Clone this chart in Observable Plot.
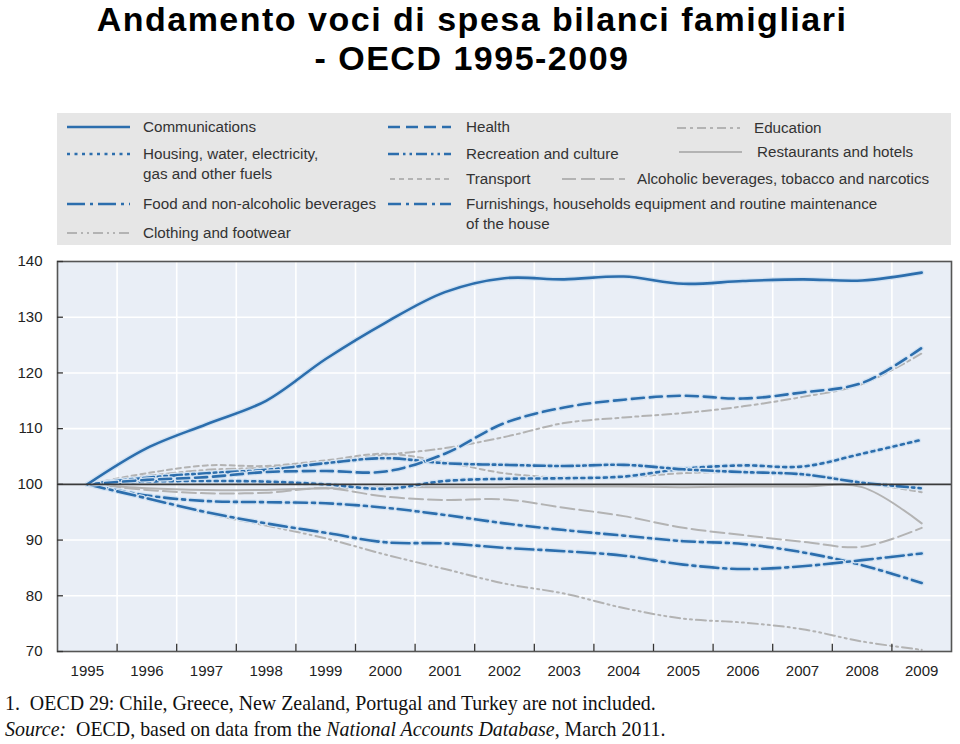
<!DOCTYPE html>
<html>
<head>
<meta charset="utf-8">
<script src="https://cdn.jsdelivr.net/npm/d3@7"></script>
<script src="https://cdn.jsdelivr.net/npm/@observablehq/plot@0.6"></script>
<style>
  html, body { margin: 0; padding: 0; background: #fff; }
  #wrap { position: relative; width: 960px; height: 744px; overflow: hidden; font-family: "Liberation Sans", Arial, sans-serif; }
  .title { position: absolute; left: 0; width: 944px; text-align: center; font-weight: bold; font-size: 34px; line-height: 39px; letter-spacing: 1.5px; color: #000; white-space: nowrap; }
  #legend { position: absolute; left: 57px; top: 113px; width: 894px; height: 132px; background: #e6e6e6; }
  .item { position: absolute; font-size: 15.2px; line-height: 20px; color: #333; white-space: nowrap; }
  .sw { position: absolute; }
  #chart { position: absolute; left: 0; top: 250px; }
  .foot { position: absolute; left: 5px; font-family: "Liberation Serif", "Times New Roman", serif; font-size: 19.9px; color: #111; white-space: nowrap; }
</style>
</head>
<body>
<div id="wrap">
  <div class="title" style="top:0px">Andamento voci di spesa bilanci famigliari</div>
  <div class="title" style="top:39px">- OECD 1995-2009</div>
  <div id="legend"></div>
  <div id="chart"></div>
  <div class="foot" style="top:692px">1.&nbsp;&nbsp;OECD 29: Chile, Greece, New Zealand, Portugal and Turkey are not included.</div>
  <div class="foot" style="top:718px"><i>Source:</i>&nbsp;&nbsp;OECD, based on data from the <i>National Accounts Database</i>, March 2011.</div>
</div>
<script>
// ---- Data (index, 1995 = 100) ----
const years = [1995,1996,1997,1998,1999,2000,2001,2002,2003,2004,2005,2006,2007,2008,2009];
const communications = [100,106.5,110.8,115,122.5,129,134.5,137,136.8,137.3,136,136.5,136.8,136.6,138];
const housing        = [100,100.5,100.6,100.5,100,99.2,100.6,101,101.1,101.4,102.8,103.4,103.2,105.5,108];
const food           = [100,97.5,95,93,91.3,89.6,89.4,88.6,88,87.2,85.6,84.8,85.3,86.4,87.6];
const clothing       = [100,97.7,94.8,92.6,90.3,87.4,84.8,82.2,80.4,77.8,75.9,75.2,74,71.8,70.3];
const health         = [100,100.8,101.3,102.2,102.4,102.3,105.5,111,113.8,115.2,115.9,115.4,116.5,118.2,124.5];
const recreation     = [100,101.2,102,102.6,103.8,104.7,103.8,103.5,103.3,103.5,102.7,102.2,101.8,100.3,99.3];
const transport      = [100,102,103.4,103.3,104.3,105.5,104,102,101.2,101.3,102,102.2,101.7,100.3,98.6];
const furnishings    = [100,98,97,96.8,96.6,95.8,94.5,93,91.8,90.8,89.8,89.3,87.8,85.5,82.3];
const education      = [100,101.5,102.6,103,104,105.3,106.5,108.5,111,112,112.8,114,115.7,118,123.5];
const restaurants    = [100,99.3,99,99,99.3,99.5,99.5,99.5,99.6,99.6,99.5,99.6,99.6,99.5,93];
const alcoholic      = [100,99,98.4,98.5,99.3,97.8,97.2,97.3,95.8,94.3,92.2,90.9,89.7,88.8,92.2];
const yTicks = [70,80,90,100,110,120,130,140];

const BLUE = "#2c6ead";
const GRAY = "#b3b3b3";

// series styling (order = drawing order)
const series = [
  {name: "Clothing and footwear", values: clothing, color: GRAY, width: 2, dash: "10,4,2,4,2,4"},
  {name: "Education", values: education, color: GRAY, width: 2, dash: "9,4,3,4"},
  {name: "Transport", values: transport, color: GRAY, width: 2, dash: "5,4"},
  {name: "Restaurants and hotels", values: restaurants, color: GRAY, width: 2, dash: null},
  {name: "Alcoholic beverages, tobacco and narcotics", values: alcoholic, color: GRAY, width: 2, dash: "14,5"},
  {name: "Housing, water, electricity, gas and other fuels", values: housing, color: BLUE, width: 2.6, dash: "3,4.5"},
  {name: "Recreation and culture", values: recreation, color: BLUE, width: 2.6, dash: "11,4,2.5,4,2.5,4"},
  {name: "Furnishings", values: furnishings, color: BLUE, width: 2.6, dash: "13,5,3,5"},
  {name: "Food and non-alcoholic beverages", values: food, color: BLUE, width: 2.6, dash: "18,5,3,5"},
  {name: "Health", values: health, color: BLUE, width: 2.6, dash: "12,6"},
  {name: "Communications", values: communications, color: BLUE, width: 2.6, dash: null}
];

const rows = series.flatMap(s => years.map((yr, i) => ({series: s.name, year: yr, value: s.values[i]})));
const bounds = years.slice(0, -1).map(y => y + 0.5);

const lineMarks = series.flatMap(s => [
  Plot.line(rows.filter(d => d.series === s.name), {
    x: "year", y: "value", stroke: s.color === BLUE ? "#d2e2f2" : "none",
    strokeWidth: s.width + 2.5, curve: "catmull-rom", strokeDasharray: s.dash || undefined
  }),
  Plot.line(rows.filter(d => d.series === s.name), {
    x: "year", y: "value", stroke: s.color, strokeWidth: s.width,
    curve: "catmull-rom", strokeDasharray: s.dash || undefined
  })
]);

const chart = Plot.plot({
  width: 960, height: 445,
  marginTop: 11, marginBottom: 44, marginLeft: 57, marginRight: 9,
  x: {domain: [1994.5, 2009.5], axis: null},
  y: {domain: [70, 140], axis: null},
  style: {fontFamily: "'Liberation Sans', Arial, sans-serif", background: "transparent", color: "#222"},
  marks: [
    Plot.frame({fill: "#e9eef6", stroke: "none"}),
    Plot.ruleY(yTicks.filter(v => v !== 100 && v !== 70 && v !== 140), {y: d => d, stroke: "#fff", strokeWidth: 1.6}),
    Plot.ruleX(bounds, {x: d => d, stroke: "#fff", strokeWidth: 1.6}),
    ...lineMarks,
    Plot.ruleY([100], {y: d => d, stroke: "#3a3a3a", strokeWidth: 1.6}),
    Plot.frame({stroke: "#555", strokeWidth: 1.6}),
    Plot.ruleX(bounds, {x: d => d, y1: 70, y2: 71.3, stroke: "#333", strokeWidth: 1.3}),
    Plot.ruleY(yTicks, {y: d => d, x1: 1994.5, x2: 1994.6, stroke: "#333", strokeWidth: 1.3}),
    Plot.axisX(years, {tickSize: 0, tickPadding: 14, fontSize: 15, tickFormat: d => String(d), anchor: "bottom", label: null}),
    Plot.axisY(yTicks, {tickSize: 0, tickPadding: 15, fontSize: 15, anchor: "left", label: null})
  ]
});
document.getElementById("chart").appendChild(chart);

// ---- Legend (HTML) ----
const legendItems = [
  {label: "Communications", sx: 10, sy: 14, tx: 86, ty: 4, s: "Communications"},
  {label: "Housing, water, electricity,<br>gas and other fuels", sx: 10, sy: 41, tx: 86, ty: 31, s: "Housing, water, electricity, gas and other fuels"},
  {label: "Food and non-alcoholic beverages", sx: 10, sy: 91, tx: 86, ty: 81, s: "Food and non-alcoholic beverages"},
  {label: "Clothing and footwear", sx: 10, sy: 120, tx: 86, ty: 110, s: "Clothing and footwear"},
  {label: "Health", sx: 331, sy: 14, tx: 409, ty: 4, s: "Health"},
  {label: "Recreation and culture", sx: 331, sy: 41, tx: 409, ty: 31, s: "Recreation and culture"},
  {label: "Transport", sx: 333, sy: 66, tx: 409, ty: 56, s: "Transport"},
  {label: "Furnishings, households equipment and routine maintenance<br>of the house", sx: 331, sy: 91, tx: 409, ty: 81, s: "Furnishings"},
  {label: "Education", sx: 620, sy: 15, tx: 697, ty: 5, s: "Education"},
  {label: "Restaurants and hotels", sx: 622, sy: 39, tx: 700, ty: 29, s: "Restaurants and hotels"},
  {label: "Alcoholic beverages, tobacco and narcotics", sx: 505, sy: 66, tx: 580, ty: 56, s: "Alcoholic beverages, tobacco and narcotics"}
];
const legend = document.getElementById("legend");
for (const it of legendItems) {
  const s = series.find(d => d.name === it.s);
  const svgNS = "http://www.w3.org/2000/svg";
  const sw = document.createElementNS(svgNS, "svg");
  sw.setAttribute("width", 63); sw.setAttribute("height", 6);
  sw.setAttribute("class", "sw");
  sw.style.left = it.sx + "px"; sw.style.top = (it.sy - 3) + "px";
  const ln = document.createElementNS(svgNS, "line");
  ln.setAttribute("x1", 0); ln.setAttribute("x2", 63); ln.setAttribute("y1", 3); ln.setAttribute("y2", 3);
  ln.setAttribute("stroke", s.color); ln.setAttribute("stroke-width", s.width);
  if (s.dash) ln.setAttribute("stroke-dasharray", s.dash);
  sw.appendChild(ln);
  legend.appendChild(sw);
  const t = document.createElement("div");
  t.className = "item";
  t.style.left = it.tx + "px"; t.style.top = it.ty + "px";
  t.innerHTML = it.label;
  legend.appendChild(t);
}
</script>
</body>
</html>
